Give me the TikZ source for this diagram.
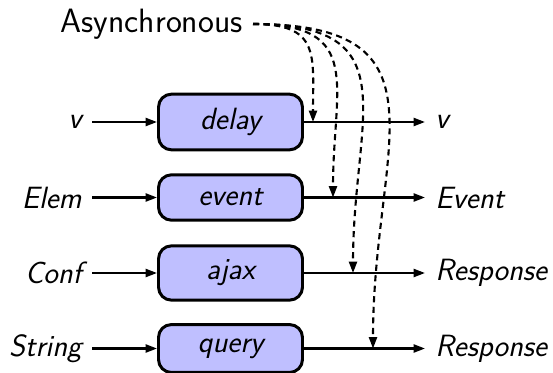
\documentclass[tikz,border=0pt]{standalone}
\usepackage{tikz}
\usetikzlibrary{arrows.meta}

\begin{document}
\begin{tikzpicture}[font=\sffamily\fontsize{17.5}{21}\selectfont,
  fnbox/.style={draw, line width=1.7pt, rounded corners=0.26cm, fill=blue!25,
    minimum width=2.88cm, minimum height=0.86cm, inner ysep=8pt},
  lbl/.style={inner xsep=0.2cm},
  flow/.style={line width=1.2pt, -{Triangle[length=6.5pt,width=4.6pt]}},
  asyncflow/.style={flow, dash pattern=on 3.5pt off 2.5pt, out=0, in=90, looseness=1.5}]
   \useasboundingbox (0,0) rectangle (11.06,7.44);
   \node[lbl, anchor=east, font=\sffamily\fontsize{19.2}{23}\selectfont] (async) at (5.06,6.96) {Asynchronous};
   \node[fnbox] (delay) at (4.61,5.0) {\itshape delay};
   \node[fnbox] (event) at (4.61,3.49) {\itshape event};
   \node[fnbox] (ajax) at (4.61,1.98) {\itshape ajax};
   \node[fnbox] (query) at (4.61,0.47) {\itshape query};
   \node[lbl, anchor=east] (inv) at (1.84,5.0) {\itshape v};
   \node[lbl, anchor=east] (inelem) at (1.84,3.49) {\itshape Elem};
   \node[lbl, anchor=east] (inconf) at (1.84,1.98) {\itshape Conf};
   \node[lbl, anchor=east] (instring) at (1.84,0.47) {\itshape String};
   \node[lbl, anchor=west] (outv) at (8.5,5.0) {\itshape v};
   \node[lbl, anchor=west] (outevent) at (8.5,3.49) {\itshape Event};
   \node[lbl, anchor=west] (outresp) at (8.5,1.98) {\itshape Response};
   \node[lbl, anchor=west] (outresp2) at (8.5,0.47) {\itshape Response};
   \coordinate (tdelay) at (6.26,5.0);
   \coordinate (tevent) at (6.66,3.49);
   \coordinate (tajax) at (7.06,1.98);
   \coordinate (tquery) at (7.46,0.47);
   \draw[flow] (inv) -- (delay);
   \draw[flow] (inelem) -- (event);
   \draw[flow] (inconf) -- (ajax);
   \draw[flow] (instring) -- (query);
   \draw[flow] (delay) -- (outv);
   \draw[flow] (event) -- (outevent);
   \draw[flow] (ajax) -- (outresp);
   \draw[flow] (query) -- (outresp2);
   \draw[asyncflow] (async.east) to (tdelay);
   \draw[asyncflow] (async.east) to (tevent);
   \draw[asyncflow] (async.east) to (tajax);
   \draw[asyncflow] (async.east) to (tquery);
\end{tikzpicture}
\end{document}
